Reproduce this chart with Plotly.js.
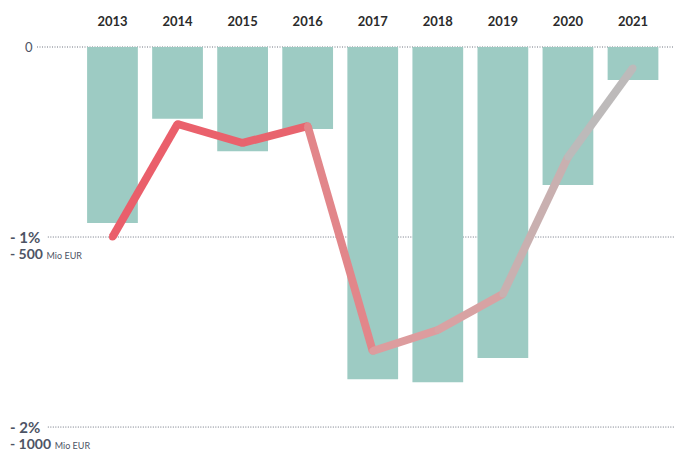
<!DOCTYPE html>
<html><head><meta charset="utf-8">
<script src="https://cdn.plot.ly/plotly-3.0.1.min.js"></script>
<style>html,body{margin:0;padding:0;background:#fff}#c{width:674px;height:451px}</style>
</head><body><div id="c"></div>
<script>
const years = ['2013','2014','2015','2016','2017','2018','2019','2020','2021'];
const barsMioEur = [-463, -189, -274, -216, -874, -882, -818, -363, -87];
const linePct = [-1.0, -0.405, -0.505, -0.416, -1.6, -1.489, -1.3, -0.579, -0.11];
const segColors = ['#ea5f6b','#ea616c','#e8646e','#e2868a','#dd9c9e','#d8a2a3','#c9b0b0','#bdbaba'];

const traces = [];
traces.push({type:'bar', x:years, y:barsMioEur, yaxis:'y', marker:{color:'#9dcbc3'}, hoverinfo:'skip'});
for (let i=0;i<years.length-1;i++){
  traces.push({type:'scatter', mode:'lines+markers', x:[years[i],years[i+1]], y:[linePct[i],linePct[i+1]], yaxis:'y2',
    line:{color:segColors[i], width:8}, marker:{color:segColors[i], size:7}, hoverinfo:'skip'});
}
const k = 500;
const yr = [-2.126, 0.0895];
const labelColor = '#4d5465';
const gridDash = '1px,1.5px';
const layout = {
  width:674, height:451, margin:{l:37,r:0,t:30,b:0},
  paper_bgcolor:'#fff', plot_bgcolor:'rgba(0,0,0,0)', showlegend:false, bargap:0.22,
  font:{family:'Lato, sans-serif'},
  xaxis:{type:'category', side:'top', range:[-1.16, 8.63], showgrid:false, zeroline:false, showline:false,
    ticks:'', tickfont:{size:13, color:'#2b2b2b', family:'Lato, sans-serif', weight:'bold'}},
  yaxis:{range:[yr[0]*k, yr[1]*k], showgrid:false, zeroline:false, showticklabels:false, showline:false},
  yaxis2:{range:yr, overlaying:'y', showgrid:false, zeroline:false, showticklabels:false, visible:false},
  shapes:[
    {type:'line', xref:'paper', yref:'y2', x0:0.0, x1:1, y0:0, y1:0, line:{color:'#6f7480', width:1, dash:gridDash}, layer:'below'},
    {type:'line', xref:'paper', yref:'y2', x0:0.017, x1:1, y0:-1, y1:-1, line:{color:'#6f7480', width:1, dash:gridDash}, layer:'below'},
    {type:'line', xref:'paper', yref:'y2', x0:0.017, x1:1, y0:-2, y1:-2, line:{color:'#6f7480', width:1, dash:gridDash}, layer:'below'}
  ],
  annotations:[
    {xref:'paper', yref:'y2', x:-0.003, y:0, xanchor:'right', yanchor:'middle', text:'0', showarrow:false, font:{size:13,color:labelColor}},
    {xref:'paper', yref:'y2', x:-0.046, y:-1, xanchor:'left', yanchor:'middle', text:'<b>- 1%</b>', showarrow:false, font:{size:15,color:labelColor}},
    {xref:'paper', yref:'y2', x:-0.046, y:-1.085, xanchor:'left', yanchor:'middle', text:'<b>- 500</b> <span style="font-size:9px">Mio EUR</span>', showarrow:false, font:{size:14,color:labelColor}},
    {xref:'paper', yref:'y2', x:-0.046, y:-2, xanchor:'left', yanchor:'middle', text:'<b>- 2%</b>', showarrow:false, font:{size:15,color:labelColor}},
    {xref:'paper', yref:'y2', x:-0.046, y:-2.085, xanchor:'left', yanchor:'middle', text:'<b>- 1000</b> <span style="font-size:9px">Mio EUR</span>', showarrow:false, font:{size:14,color:labelColor}}
  ]
};
Plotly.newPlot('c', traces, layout, {displayModeBar:false, staticPlot:true});
</script></body></html>
